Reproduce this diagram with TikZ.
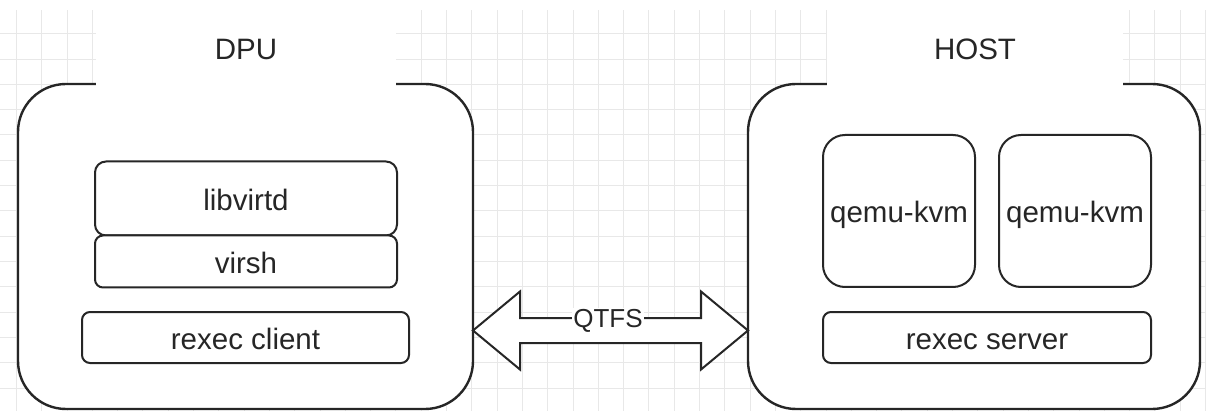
\documentclass[tikz,border=0pt]{standalone}
\usepackage{fontspec}
\setmainfont{Liberation Sans}
\usetikzlibrary{positioning,calc}

\begin{document}
\begin{tikzpicture}[x=1pt,y=-1pt,node distance=0pt,
    every node/.style={font=\fontsize{29.5}{34}\selectfont, text=black!85, text height=23.6pt, text depth=0pt},
    gridline/.style={draw=black!9, line width=0.8pt},
    machine/.style={draw=black!85, fill=white, line width=2.4pt, rounded corners=48pt, minimum height=325pt, outer sep=0pt},
    title/.style={fill=white, minimum height=76pt},
    part/.style={draw=black!85, fill=white, line width=2pt, inner sep=2pt, outer sep=0pt},
    tunnel/.style={draw=black!85, fill=white, line width=2pt, line join=miter}]
  \useasboundingbox (0,0) rectangle (1206,411);
  \begin{scope}[shift={(16.3,8.4)}]
    \draw[gridline] (-16.3,1.6) grid[step=25.3pt] (1189.7,402.6);
  \end{scope}

  \node[machine, minimum width=455pt] (dpu) at (245.5,246.5) {};
  \node[machine, minimum width=452pt] (host) at (974,246.5) {};
  \node[title, minimum width=300pt] (dputitle) at (246,48) {DPU};
  \node[title, minimum width=296pt] (hosttitle) at (975,48) {HOST};

  \node[part, rounded corners=11pt, minimum width=302pt, minimum height=74pt] (libvirtd) at (246,198.5) {libvirtd};
  \node[part, rounded corners=8pt, minimum width=302pt, minimum height=52pt, below=of libvirtd] (virsh) {virsh};
  \node[part, rounded corners=8pt, minimum width=327pt, minimum height=51pt] (client) at (245.5,337.5) {rexec client};

  \node[part, rounded corners=22pt, minimum width=152pt, minimum height=152pt] (qemu1) at (899,211) {qemu-kvm};
  \node[part, rounded corners=22pt, minimum width=152pt, minimum height=152pt, right=24pt of qemu1] (qemu2) {qemu-kvm};
  \node[part, rounded corners=8pt, minimum width=328pt, minimum height=51pt] (server) at (987,337.5) {rexec server};

  \coordinate (l) at ($(dpu.east)+(0,84)$);
  \coordinate (r) at ($(host.west)+(0,84)$);
  \draw[tunnel] (l) -- ($(l)+(47,-39)$) -- ($(l)+(47,-12.5)$) -- ($(r)+(-47,-12.5)$) -- ($(r)+(-47,-39)$) -- (r)
    -- ($(r)+(-47,39)$) -- ($(r)+(-47,12.5)$) -- ($(l)+(47,12.5)$) -- ($(l)+(47,39)$) -- cycle;
  \node[fill=white, inner sep=1pt, font=\fontsize{26}{30}\selectfont, text height=18.6pt] (qtfs) at ($(l)!0.5!(r)+(-2.5,-12.5)$) {QTFS};
\end{tikzpicture}
\end{document}
